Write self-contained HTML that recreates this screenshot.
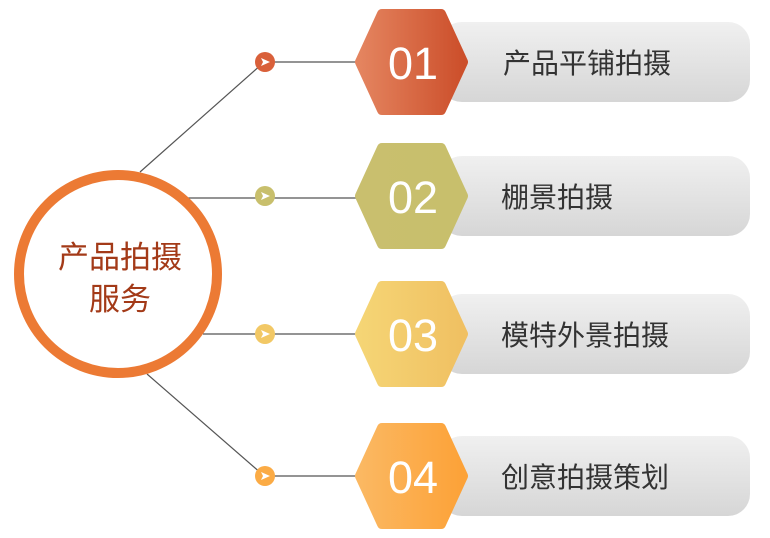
<!DOCTYPE html>
<html><head><meta charset="utf-8"><style>
html,body{margin:0;padding:0;background:#fff;}
svg{display:block}
</style></head><body>
<svg width="770" height="538" viewBox="0 0 770 538" xmlns="http://www.w3.org/2000/svg">
<defs>
<linearGradient id="pill" x1="0" y1="0" x2="0" y2="1"><stop offset="0" stop-color="#f0f0f0"/><stop offset="1" stop-color="#d6d6d6"/></linearGradient>
<linearGradient id="g1" x1="0" y1="0" x2="1" y2="0"><stop offset="0" stop-color="#e4845f"/><stop offset="1" stop-color="#cc4f2b"/></linearGradient>
<linearGradient id="g2" x1="0" y1="0" x2="1" y2="0"><stop offset="0" stop-color="#c9bf6e"/><stop offset="1" stop-color="#c8bf6c"/></linearGradient>
<linearGradient id="g3" x1="0" y1="0" x2="1" y2="0"><stop offset="0" stop-color="#f5d575"/><stop offset="1" stop-color="#f0c062"/></linearGradient>
<linearGradient id="g4" x1="0" y1="0" x2="1" y2="0"><stop offset="0" stop-color="#fbb862"/><stop offset="1" stop-color="#fca238"/></linearGradient>
</defs>
<g stroke="#555" stroke-width="1.2" fill="none">
<line x1="140" y1="172" x2="262" y2="64"/>
<line x1="265" y1="62" x2="360" y2="62"/>
<line x1="188" y1="198" x2="360" y2="198"/>
<line x1="203" y1="334" x2="360" y2="334"/>
<line x1="147" y1="374" x2="262" y2="474"/>
<line x1="265" y1="476" x2="360" y2="476"/>
</g>
<circle cx="118" cy="274" r="99" fill="#fff" stroke="#ec7a34" stroke-width="10"/>
<text x="120" y="268" font-family="Liberation Sans, Noto Sans CJK SC, sans-serif" font-size="31" fill="#a33a18" text-anchor="middle">产品拍摄</text>
<text x="120" y="310" font-family="Liberation Sans, Noto Sans CJK SC, sans-serif" font-size="31" fill="#a33a18" text-anchor="middle">服务</text>
<g font-family="Liberation Sans, Noto Sans CJK SC, sans-serif">
<g transform="translate(0,62)">
<rect x="440" y="-40" width="310" height="80" rx="22" fill="url(#pill)"/>
<polygon points="360,0 382,-48 441,-48 463,0 441,48 382,48" fill="url(#g1)" stroke="url(#g1)" stroke-width="10" stroke-linejoin="round"/>
<text x="413" y="17" font-size="45" fill="#fff" text-anchor="middle">01</text>
<text x="503" y="11" font-size="28" fill="#333">产品平铺拍摄</text>
<circle cx="265" cy="0" r="10" fill="#d9603a"/><polygon points="261,-4 270,0 261,4 263,0" fill="#fff"/>
</g>
<g transform="translate(0,196)">
<rect x="440" y="-40" width="310" height="80" rx="22" fill="url(#pill)"/>
<polygon points="360,0 382,-48 441,-48 463,0 441,48 382,48" fill="url(#g2)" stroke="url(#g2)" stroke-width="10" stroke-linejoin="round"/>
<text x="413" y="17" font-size="45" fill="#fff" text-anchor="middle">02</text>
<text x="501" y="11" font-size="28" fill="#333">棚景拍摄</text>
<circle cx="265" cy="0" r="10" fill="#c8bf6c"/><polygon points="261,-4 270,0 261,4 263,0" fill="#fff"/>
</g>
<g transform="translate(0,334)">
<rect x="440" y="-40" width="310" height="80" rx="22" fill="url(#pill)"/>
<polygon points="360,0 382,-48 441,-48 463,0 441,48 382,48" fill="url(#g3)" stroke="url(#g3)" stroke-width="10" stroke-linejoin="round"/>
<text x="413" y="17" font-size="45" fill="#fff" text-anchor="middle">03</text>
<text x="501" y="11" font-size="28" fill="#333">模特外景拍摄</text>
<circle cx="265" cy="0" r="10" fill="#f2c865"/><polygon points="261,-4 270,0 261,4 263,0" fill="#fff"/>
</g>
<g transform="translate(0,476)">
<rect x="440" y="-40" width="310" height="80" rx="22" fill="url(#pill)"/>
<polygon points="360,0 382,-48 441,-48 463,0 441,48 382,48" fill="url(#g4)" stroke="url(#g4)" stroke-width="10" stroke-linejoin="round"/>
<text x="413" y="17" font-size="45" fill="#fff" text-anchor="middle">04</text>
<text x="501" y="11" font-size="28" fill="#333">创意拍摄策划</text>
<circle cx="265" cy="0" r="10" fill="#fbab45"/><polygon points="261,-4 270,0 261,4 263,0" fill="#fff"/>
</g>
</g>
</svg>
</body></html>
